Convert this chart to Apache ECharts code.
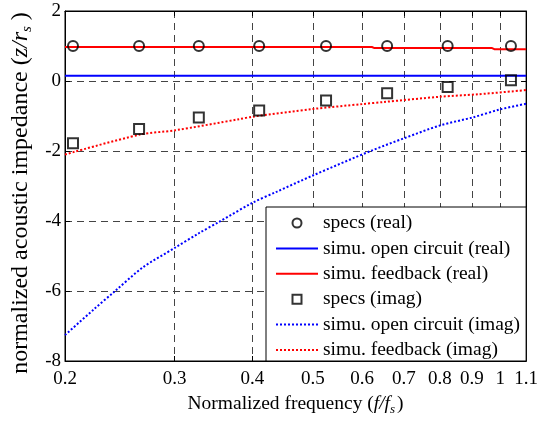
<!DOCTYPE html>
<html>
<head>
<meta charset="utf-8">
<script src="https://cdn.jsdelivr.net/npm/echarts@6/dist/echarts.min.js"></script>
<style>
html,body{margin:0;padding:0;background:#fff;}
#c{width:541px;height:421px;}
</style>
</head>
<body>
<div id="c"></div>
<script>
// ---- data ----
const xTickVals = [0.2, 0.3, 0.4, 0.5, 0.6, 0.7, 0.8, 0.9, 1, 1.1];
const xTickLabels = ['0.2', '0.3', '0.4', '0.5', '0.6', '0.7', '0.8', '0.9', '1', '1.1'];

const specFreq = [0.206, 0.263, 0.328, 0.410, 0.525, 0.658, 0.823, 1.04];
const specReal = [1.0, 1.0, 1.0, 1.0, 1.0, 1.0, 1.0, 1.0];
const specImag = [-1.78, -1.37, -1.04, -0.84, -0.56, -0.35, -0.17, 0.02];

const openRealFreq = [0.2, 1.1];
const openReal = [0.15, 0.15];

const fbRealFreq = [0.2, 0.622, 0.628, 0.970, 0.978, 1.1];
const fbReal = [0.97, 0.97, 0.94, 0.94, 0.91, 0.91];

const openImagFreq = [0.2, 0.222, 0.24, 0.267, 0.3, 0.328, 0.354, 0.4, 0.438, 0.5, 0.621, 0.702, 0.8, 0.903, 1.0, 1.1];
const openImag = [-7.26, -6.54, -6.02, -5.32, -4.77, -4.35, -4.02, -3.48, -3.16, -2.70, -1.99, -1.63, -1.27, -1.04, -0.81, -0.65];

const fbImagFreq = [0.2, 0.264, 0.3, 0.381, 0.4, 0.5, 0.6, 0.65, 0.8, 0.92, 1.1];
const fbImag = [-2.10, -1.53, -1.41, -1.09, -1.02, -0.80, -0.66, -0.60, -0.45, -0.38, -0.26];

const names = ['specs (real)', 'simu. open circuit (real)', 'simu. feedback (real)',
               'specs (imag)', 'simu. open circuit (imag)', 'simu. feedback (imag)'];

// ---- helpers ----
const L = Math.log;
const pairs = (xs, ys) => xs.map((x, i) => [L(x), ys[i]]);
const FONT = 'Liberation Serif';
const xCustom = xTickVals.map(L);

const chart = echarts.init(document.getElementById('c'), null, {renderer: 'canvas'});

const dashStyle = {color: '#444', width: 1, type: [7, 5]};
const axLine = {show: true, onZero: false, lineStyle: {color: '#000', width: 1}};
const SQUARE = 'path://M0,0L10,0L10,10L0,10Z';

const option = {
  backgroundColor: '#fff',
  animation: false,
  textStyle: {fontFamily: FONT},
  grid: {left: 65, right: 11, top: 11, bottom: 51, show: true, borderColor: '#000', borderWidth: 1, containLabel: false},
  legend: {
    data: [
      {name: names[0]},
      {name: names[1], itemStyle: {opacity: 0}},
      {name: names[2], itemStyle: {opacity: 0}},
      {name: names[3], icon: SQUARE},
      {name: names[4], itemStyle: {opacity: 0}},
      {name: names[5], itemStyle: {opacity: 0}}
    ],
    orient: 'vertical',
    left: 266, top: 207,
    padding: [6, 6, 1, 9],
    itemWidth: 42, itemHeight: 9, itemGap: 5.4,
    symbolKeepAspect: true,
    backgroundColor: '#fff',
    borderColor: '#000', borderWidth: 1,
    textStyle: {fontFamily: FONT, fontSize: 19.5, color: '#000', lineHeight: 20},
    selectedMode: false
  },
  xAxis: [{
    type: 'value',
    min: L(0.2), max: L(1.1),
    position: 'bottom',
    name: '{n|Normalized frequency (}{i|f/f}{s|s}{n|)}',
    nameLocation: 'middle',
    nameGap: 31,
    nameTextStyle: {
      rich: {
        n: {fontFamily: FONT, fontSize: 19.5, color: '#000'},
        i: {fontFamily: FONT, fontSize: 19.5, fontStyle: 'italic', color: '#000'},
        s: {fontFamily: FONT, fontSize: 13, fontStyle: 'italic', color: '#000', padding: [11, 2, 0, 0]}
      }
    },
    axisLine: axLine,
    axisTick: {show: true, inside: true, length: 5, customValues: xCustom, lineStyle: {color: '#000'}},
    axisLabel: {
      show: true, margin: 9, customValues: xCustom,
      fontFamily: FONT, fontSize: 19, color: '#000',
      formatter: function (v) {
        let best = 0, bd = Infinity;
        xCustom.forEach((c, i) => { const d = Math.abs(c - v); if (d < bd) { bd = d; best = i; } });
        return xTickLabels[best];
      }
    },
    splitLine: {show: true, lineStyle: dashStyle}
  }, {
    type: 'value',
    min: L(0.2), max: L(1.1),
    position: 'top',
    axisLine: axLine,
    axisTick: {show: true, inside: true, length: 5, customValues: xCustom, lineStyle: {color: '#000'}},
    axisLabel: {show: false},
    splitLine: {show: false}
  }],
  yAxis: [{
    type: 'value',
    min: -8, max: 2, interval: 2,
    position: 'left',
    name: '{n|normalized acoustic impedance (}{i|z/r}{s|s}{n| )}',
    nameLocation: 'middle',
    nameRotate: 90,
    nameGap: 26,
    nameTextStyle: {
      padding: [0, 14, 0, 0],
      rich: {
        n: {fontFamily: FONT, fontSize: 24, color: '#000'},
        i: {fontFamily: FONT, fontSize: 24, fontStyle: 'italic', color: '#000'},
        s: {fontFamily: FONT, fontSize: 15, fontStyle: 'italic', color: '#000', padding: [13, 0, 0, 0]}
      }
    },
    axisLine: axLine,
    axisTick: {show: true, inside: true, length: 5, lineStyle: {color: '#000'}},
    axisLabel: {show: true, margin: 4, fontFamily: FONT, fontSize: 19, color: '#000'},
    splitLine: {show: true, lineStyle: dashStyle}
  }, {
    type: 'value',
    min: -8, max: 2, interval: 2,
    position: 'right',
    axisLine: axLine,
    axisTick: {show: true, inside: true, length: 5, lineStyle: {color: '#000'}},
    axisLabel: {show: false},
    splitLine: {show: false}
  }],
  series: [
    {
      name: names[0], type: 'scatter', xAxisIndex: 0, yAxisIndex: 0,
      data: pairs(specFreq, specReal),
      symbol: 'circle', symbolSize: 10,
      itemStyle: {color: 'rgba(0,0,0,0)', borderColor: '#000', borderWidth: 2},
      z: 5
    },
    {
      name: names[1], type: 'line', xAxisIndex: 0, yAxisIndex: 0,
      data: pairs(openRealFreq, openReal),
      symbol: 'none', showSymbol: false,
      lineStyle: {color: '#0000ff', width: 2, type: 'solid'},
      itemStyle: {color: '#0000ff'}
    },
    {
      name: names[2], type: 'line', xAxisIndex: 0, yAxisIndex: 0,
      data: pairs(fbRealFreq, fbReal),
      symbol: 'none', showSymbol: false,
      lineStyle: {color: '#ff0000', width: 2, type: 'solid'},
      itemStyle: {color: '#ff0000'}
    },
    {
      name: names[3], type: 'scatter', xAxisIndex: 0, yAxisIndex: 0,
      data: pairs(specFreq, specImag),
      symbol: 'rect', symbolSize: 10,
      itemStyle: {color: 'rgba(0,0,0,0)', borderColor: '#000', borderWidth: 2},
      z: 5
    },
    {
      name: names[4], type: 'line', xAxisIndex: 0, yAxisIndex: 0,
      data: pairs(openImagFreq, openImag),
      symbol: 'none', showSymbol: false, smooth: 0.3,
      lineStyle: {color: '#0000ff', width: 2, type: [2, 2]},
      itemStyle: {color: '#0000ff'}
    },
    {
      name: names[5], type: 'line', xAxisIndex: 0, yAxisIndex: 0,
      data: pairs(fbImagFreq, fbImag),
      symbol: 'none', showSymbol: false, smooth: 0.3,
      lineStyle: {color: '#ff0000', width: 2, type: [2, 2]},
      itemStyle: {color: '#ff0000'}
    }
  ]
};
chart.setOption(option);
</script>
</body>
</html>
